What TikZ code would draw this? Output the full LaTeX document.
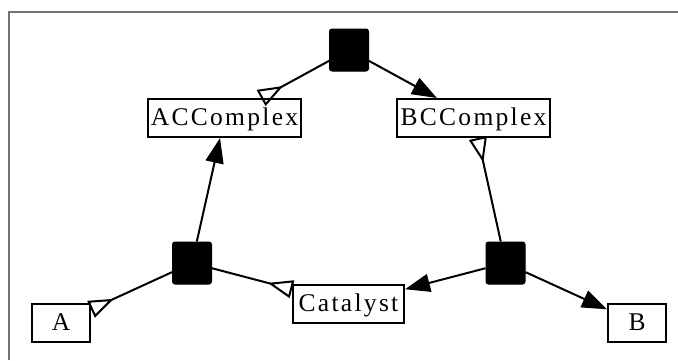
\documentclass[tikz,border=0pt]{standalone}
\usepackage{fontspec}
\setmainfont{Liberation Serif}
\newfontfamily\placefont{Liberation Serif}[LetterSpace=9]
\usetikzlibrary{arrows.meta}
\definecolor{framegray}{gray}{0.45}
\begin{document}
\begin{tikzpicture}[x=1pt,y=-1pt,
  place/.style={draw=black, line width=2pt, fill=white, inner sep=0pt,
    minimum height=38pt, text height=17pt, text depth=3pt,
    font={\placefont\fontsize{25.5}{30}\selectfont}},
  trans/.style={draw=black, fill=black, line width=1pt, rounded corners=2.5pt,
    minimum width=39pt, minimum height=42pt, inner sep=0pt},
  link/.style={line width=2pt},
  fwd/.style={link, -{Triangle[length=25pt, width=18pt]}},
  back/.style={link, -{Triangle[open, reversed, length=25pt, width=18pt]}}]
\useasboundingbox (0,0) rectangle (678,360);
% frame edges
\draw[framegray, line width=1.5pt] (9,360) -- (9,12) -- (678,12);

% transitions
\node[trans] (t1) at (349,50) {};
\node[trans] (t2) at (192,263) {};
\node[trans] (t3) at (505.5,263) {};

% places
\node[place, minimum width=153pt] (ac) at (224.5,118) {ACComplex};
\node[place, minimum width=153pt] (bc) at (473.5,118) {BCComplex};
\node[place, minimum width=111pt] (cat) at (348.5,304) {Catalyst};
\node[place, minimum width=58pt] (a) at (61,323) {A};
\node[place, minimum width=58pt] (b) at (637,323) {B};

% arcs
\draw[fwd]  (t1) -- (bc);
\draw[back] (t1) -- (ac);
\draw[fwd]  (t2) -- (ac);
\draw[back] (t2) -- (a);
\draw[back] (t2) -- (cat);
\draw[back] (t3) -- (bc);
\draw[fwd]  (t3) -- (cat);
\draw[fwd]  (t3) -- (b);
\end{tikzpicture}
\end{document}
